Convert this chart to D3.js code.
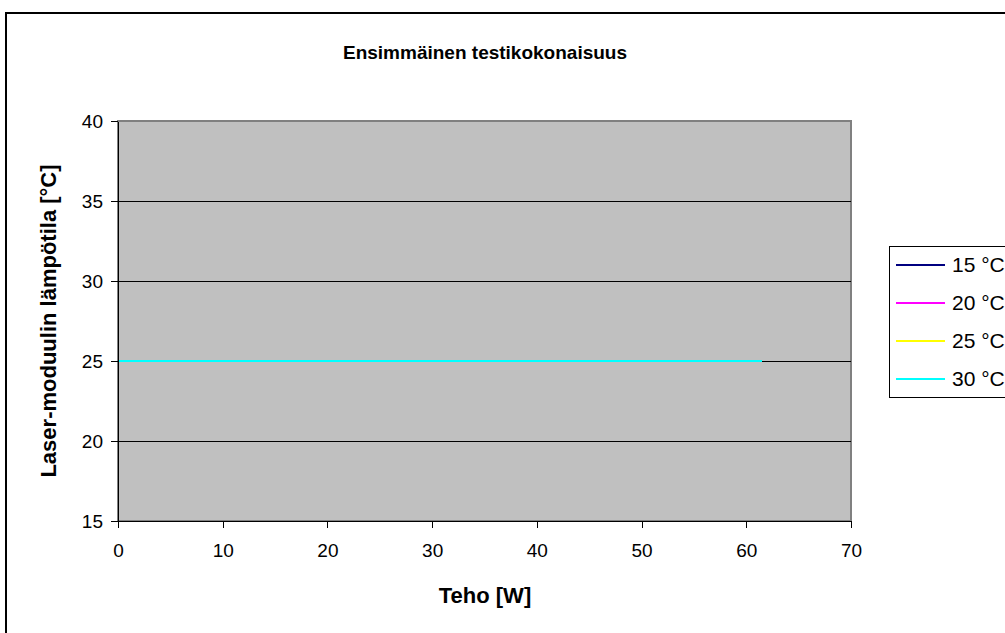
<!DOCTYPE html>
<meta charset="utf-8">
<title>Ensimmäinen testikokonaisuus</title>
<style>
body { margin: 0; background: #fff; }
svg { font-family: Arial, "Liberation Sans", sans-serif; }
.axis path, .axis line { stroke: #000; shape-rendering: crispEdges; }
.axis text { font-size: 19px; fill: #000; }
.grid line { stroke: #000; shape-rendering: crispEdges; }
</style>
<body>
<script src="https://d3js.org/d3.v7.min.js"></script>
<script>

// data
var seriesNames = ["15 °C", "20 °C", "25 °C", "30 °C"];
var seriesColors = ["#000080", "#ff00ff", "#ffff00", "#00ffff"];
var power = [0, 10, 20, 30, 40, 50, 61.5];
var temp15 = [25, 25, 25, 25, 25, 25, 25];
var temp20 = [25, 25, 25, 25, 25, 25, 25];
var temp25 = [25, 25, 25, 25, 25, 25, 25];
var temp30 = [25, 25, 25, 25, 25, 25, 25];
var xTicks = [0, 10, 20, 30, 40, 50, 60, 70];
var yTicks = [15, 20, 25, 30, 35, 40];

var series = [temp15, temp20, temp25, temp30].map(function(vals, i) {
  return {
    name: seriesNames[i],
    color: seriesColors[i],
    values: vals.map(function(v, j) { return {x: power[j], y: v}; })
  };
});

var W = 1005, H = 633;
var plot = {left: 118, top: 121, right: 851, bottom: 521};

var svg = d3.select("body").append("svg")
    .attr("width", W)
    .attr("height", H);

// chart frame
svg.append("rect")
    .attr("x", 6).attr("y", 13)
    .attr("width", 1100).attr("height", 700)
    .attr("fill", "#fff")
    .attr("stroke", "#000")
    .attr("stroke-width", 2);

var x = d3.scaleLinear().domain([0, 70]).range([plot.left, plot.right]);
var y = d3.scaleLinear().domain([15, 40]).range([plot.bottom, plot.top]);

// plot area
svg.append("rect")
    .attr("x", plot.left).attr("y", plot.top)
    .attr("width", plot.right - plot.left)
    .attr("height", plot.bottom - plot.top)
    .attr("fill", "#c0c0c0")
    .attr("stroke", "#808080")
    .attr("stroke-width", 2);

svg.append("g")
    .attr("class", "grid")
  .selectAll("line")
    .data(yTicks.filter(function(d) { return d > 15 && d < 40; }))
  .enter().append("line")
    .attr("x1", plot.left).attr("x2", plot.right)
    .attr("y1", function(d) { return Math.round(y(d)) + 0.5; })
    .attr("y2", function(d) { return Math.round(y(d)) + 0.5; });

var line = d3.line()
    .x(function(d) { return x(d.x); })
    .y(function(d) { return y(d.y); });

svg.append("g")
  .selectAll("path")
    .data(series)
  .enter().append("path")
    .attr("d", function(d) { return line(d.values); })
    .attr("fill", "none")
    .attr("stroke", function(d) { return d.color; })
    .attr("stroke-width", 2);

// axes
svg.append("g")
    .attr("class", "axis")
    .attr("transform", "translate(" + plot.left + ",0)")
    .call(d3.axisLeft(y).tickValues(yTicks).tickSize(7).tickPadding(8).tickSizeOuter(0));

svg.append("g")
    .attr("class", "axis")
    .attr("transform", "translate(0," + plot.bottom + ")")
    .call(d3.axisBottom(x).tickValues(xTicks).tickSize(7).tickPadding(16).tickSizeOuter(0));

// titles
svg.append("text")
    .attr("x", 485).attr("y", 59)
    .attr("text-anchor", "middle")
    .attr("font-size", 19)
    .attr("font-weight", "bold")
    .text("Ensimmäinen testikokonaisuus");

svg.append("text")
    .attr("x", 485).attr("y", 603)
    .attr("text-anchor", "middle")
    .attr("font-size", 22)
    .attr("font-weight", "bold")
    .text("Teho [W]");

svg.append("text")
    .attr("transform", "translate(56," + (plot.top + plot.bottom) / 2 + ") rotate(-90)")
    .attr("text-anchor", "middle")
    .attr("font-size", 22)
    .attr("font-weight", "bold")
    .text("Laser-moduulin lämpötila [°C]");

// legend
var legend = svg.append("g").attr("transform", "translate(889,246)");
legend.append("rect")
    .attr("x", 0.5).attr("y", 0.5)
    .attr("width", 200).attr("height", 151)
    .attr("fill", "#fff")
    .attr("stroke", "#000");

var item = legend.selectAll(".item")
    .data(series)
  .enter().append("g")
    .attr("transform", function(d, i) { return "translate(0," + (19 + i * 38) + ")"; });

item.append("line")
    .attr("x1", 7).attr("x2", 56)
    .attr("stroke", function(d) { return d.color; })
    .attr("stroke-width", 2);

item.append("text")
    .attr("x", 63).attr("dy", "0.35em")
    .attr("font-size", 21)
    .text(function(d) { return d.name; });

</script>
